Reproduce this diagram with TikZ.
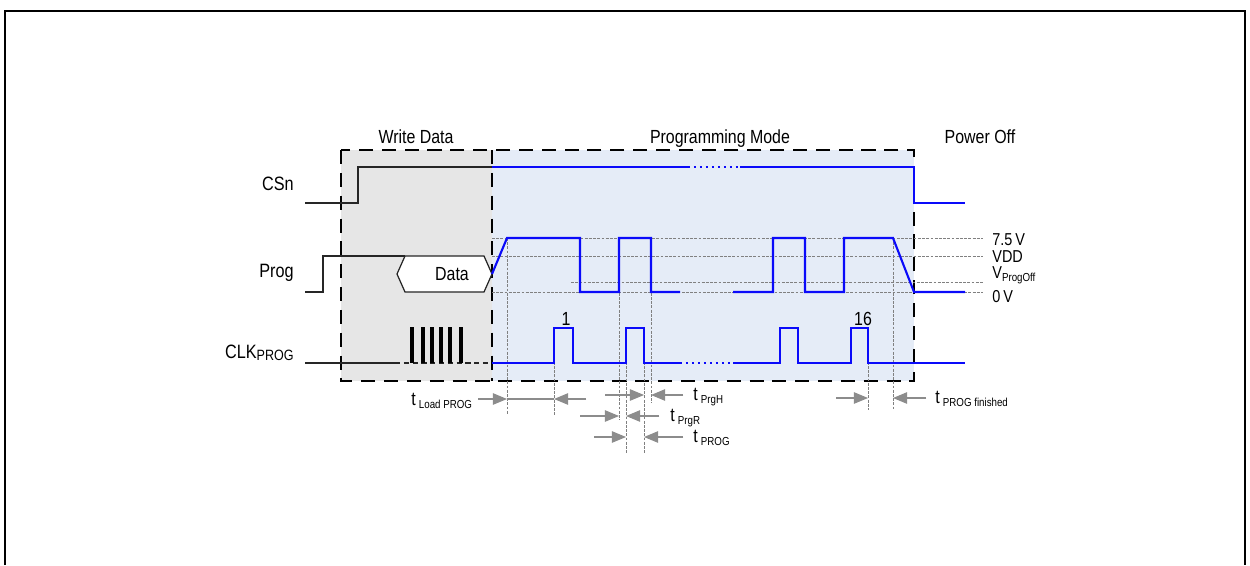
\documentclass[tikz,border=0pt]{standalone}
\usepackage{fontspec}
\setmainfont{Liberation Sans}[FakeStretch=0.84]
\usepackage{xcolor}
\usepackage{tikz}
\usetikzlibrary{arrows.meta, positioning, calc}
\definecolor{sigblue}{RGB}{10,10,250}
\definecolor{writefill}{RGB}{230,230,230}
\definecolor{progfill}{RGB}{229,236,247}
\newcommand{\tsub}[1]{t\hspace{1.8pt}\raisebox{-1.8pt}{\fontsize{6.6}{8}\selectfont #1}}
\tikzset{
  frameline/.style={draw=black, line width=1.4pt},
  phasebox/.style={draw=black, line width=1.4pt, dash pattern=on 8pt off 5pt},
  oldsig/.style={draw=black!85, line width=0.7pt},
  newsig/.style={draw=sigblue, line width=1.2pt},
  gapsig/.style={newsig, dash pattern=on 1.2pt off 2.2pt},
  level/.style={draw=black!50, line width=0.5pt, dash pattern=on 1.6pt off 0.8pt},
  marker/.style={level},
  tarrow/.style={-{Triangle[length=8pt, width=6.5pt]}, draw=black!45, fill=black!55, line width=0.6pt},
  phase/.style={font=\fontsize{10.8}{12}\selectfont, anchor=base, inner sep=0pt},
  signame/.style={font=\fontsize{11}{12}\selectfont, anchor=base east, inner sep=0pt},
  lvlname/.style={font=\fontsize{9.8}{11}\selectfont, anchor=base west, inner sep=0pt},
  tname/.style={font=\fontsize{10.8}{12}\selectfont, anchor=base west, inner sep=0pt},
}

\begin{document}
\begin{tikzpicture}[x=0.02cm, y=-0.02cm]
  \useasboundingbox (0,0) rectangle (1250,565);
  \draw[frameline] (5,565) -- (5,11) -- (1245,11) -- (1245,565);

  % phases
  \fill[writefill] (341,150) rectangle (492,381);
  \fill[progfill] (492,150) rectangle (914,381);
  \draw[phasebox] (341,150) rectangle (914,381);
  \draw[phasebox] (492,150) -- (492,381);
  \node[phase] (wr) at (416,143) {Write Data};
  \node[phase] (pm) at (720,143) {Programming Mode};
  \node[phase] (po) at (980,143) {Power Off};

  % levels
  \foreach \y/\x in {238/492, 256/492, 282/571, 292/492}
    \draw[level] (\x,\y) -- (983,\y);
  \node[lvlname] (l75) at (992,245) {7.5\,V};
  \node[lvlname] (lvdd) at (992,262) {VDD};
  \node[lvlname] (lvpo) at (992,278) {V\raisebox{-2pt}{\fontsize{6.6}{8}\selectfont ProgOff}};
  \node[lvlname] (l0) at (992,302) {0\,V};

  % timing markers
  \coordinate (mRamp) at (507,238);
  \coordinate (mClk1) at (554,328);
  \coordinate (mPrgUp) at (619,238);
  \coordinate (mClkUp) at (626,328);
  \coordinate (mClkDn) at (644,328);
  \coordinate (mPrgDn) at (651,238);
  \coordinate (mClk16) at (868,328);
  \coordinate (mOff) at (893,238);
  \draw[marker] (mRamp) -- (507,415);
  \draw[marker] (mClk1) -- (554,415);
  \draw[marker] (mPrgUp) -- (619,420);
  \draw[marker] (mClkUp) -- (626,453);
  \draw[marker] (mClkDn) -- (644,453);
  \draw[marker] (mPrgDn) -- (651,403);
  \draw[marker] (mClk16) -- (868,410);
  \draw[marker] (mOff) -- (893,410);

  % signal names
  \node[signame] (csn) at (294,190) {CSn};
  \node[signame] (prog) at (294,277) {Prog};
  \node[signame] (clk) at (294,358) {CLK\raisebox{-1.5pt}{\fontsize{8.5}{9}\selectfont PROG}};

  % CSn
  \draw[oldsig] (305,203) -- (358,203) -- (358,167) -- (492,167);
  \draw[newsig] (492,167) -- (688,167);
  \draw[gapsig] (688,167) -- (740,167);
  \draw[newsig] (740,167) -- (914,167) -- (914,203) -- (965,203);

  % Prog
  \draw[oldsig] (305,292) -- (323,292) -- (323,256) -- (405,256);
  \draw[oldsig, fill=white] (397,274) -- (405,256) -- (484,256) -- (492,274)
    -- (484,292) -- (405,292) -- cycle;
  \node[phase] (data) at (452,280) {Data};
  \draw[newsig] (492,274) -- (507,238) -- (580,238) -- (580,292) -- (619,292)
    -- (619,238) -- (651,238) -- (651,292) -- (680,292);
  \draw[newsig] (733,292) -- (773,292) -- (773,238) -- (805,238) -- (805,292)
    -- (844,292) -- (844,238) -- (893,238) -- (914,292) -- (965,292);

  % CLK
  \draw[oldsig] (305,363) -- (395,363);
  \draw[oldsig, dash pattern=on 3pt off 2pt] (395,363) -- (492,363);
  \foreach \x in {411,422,431,440,449,460}
    \draw[oldsig, draw=black, line width=0.6pt] (\x,363) -- (\x,328) -- (\x+2,328) -- (\x+2,363);
  \draw[newsig] (492,363) -- (554,363) -- (554,328) -- (573,328) -- (573,363)
    -- (626,363) -- (626,328) -- (644,328) -- (644,363) -- (680,363);
  \draw[gapsig] (680,363) -- (733,363);
  \draw[newsig] (733,363) -- (780,363) -- (780,328) -- (798,328) -- (798,363)
    -- (851,363) -- (851,328) -- (868,328) -- (868,363) -- (965,363);
  \node[phase] (n1) at (566,325) {1};
  \node[phase] (n16) at (863,325) {16};

  % timings
  \coordinate (rLoad) at (0,399);
  \coordinate (rPrgH) at (0,395);
  \coordinate (rPrgR) at (0,416);
  \coordinate (rProg) at (0,437);
  \coordinate (rFin) at (0,398);
  \draw[tarrow] (478,399) -- (mRamp |- rLoad);
  \draw[draw=black!45, line width=0.6pt] (mRamp |- rLoad) -- (mClk1 |- rLoad);
  \draw[tarrow] (586,399) -- (mClk1 |- rLoad);
  \node[tname] (tld) at (411,405) {\tsub{Load PROG}};

  \draw[tarrow] (605,395) -- (mClkDn |- rPrgH);
  \draw[tarrow] (683,395) -- (mPrgDn |- rPrgH);
  \node[tname] (tph) at (693,400) {\tsub{PrgH}};

  \draw[tarrow] (580,416) -- (mPrgUp |- rPrgR);
  \draw[tarrow] (659,416) -- (mClkUp |- rPrgR);
  \node[tname] (tpr) at (670,421) {\tsub{PrgR}};

  \draw[tarrow] (594,437) -- (mClkUp |- rProg);
  \draw[tarrow] (683,437) -- (mClkDn |- rProg);
  \node[tname] (tpg) at (693,442) {\tsub{PROG}};

  \draw[tarrow] (836,398) -- (mClk16 |- rFin);
  \draw[tarrow] (926,398) -- (mOff |- rFin);
  \node[tname] (tfin) at (935,403) {\tsub{PROG finished}};
\end{tikzpicture}
\end{document}
